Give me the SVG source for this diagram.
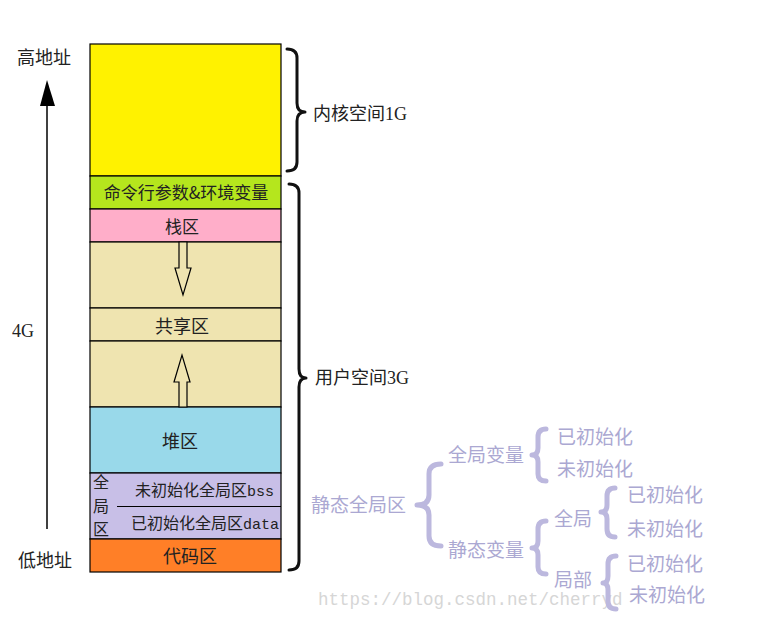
<svg xmlns="http://www.w3.org/2000/svg" width="759" height="627" viewBox="0 0 759 627">
<style>
.cell{stroke:#000;stroke-width:1.2}
.t{font-family:"Noto Sans CJK SC","Liberation Sans",sans-serif;fill:#222}
.m{font-family:"Liberation Mono",monospace}
.s{font-family:"Liberation Serif",serif}
.lv{font-family:"Noto Sans CJK SC","Liberation Sans",sans-serif;fill:#aba8d2;font-size:19px}
.kb{fill:none;stroke:#111;stroke-width:3;stroke-linecap:round;stroke-linejoin:round}
.lb{fill:none;stroke:#bcb8de;stroke-width:5;stroke-linecap:round;stroke-linejoin:round}
.ha{fill:#efe4b0;stroke:#000;stroke-width:1.2}
</style>
<rect width="759" height="627" fill="#fff"/>
<text x="318" y="605" font-family="Liberation Mono,monospace" font-size="17.5" fill="#d6d6d6">https://blog.csdn.net/cherryd</text>

<g id="kernel"><rect class="cell" x="90" y="44" width="191" height="132" fill="#fff200"/></g>
<g id="args"><rect class="cell" x="90" y="176" width="191" height="33" fill="#b5e61d"/>
<text class="t" x="186" y="199" font-size="17" text-anchor="middle">命令行参数&amp;环境变量</text></g>
<g id="stack"><rect class="cell" x="90" y="209" width="191" height="33" fill="#ffaec9"/>
<text class="t" x="182" y="233" font-size="17" text-anchor="middle">栈区</text></g>
<g id="gap1"><rect class="cell" x="90" y="242" width="191" height="66" fill="#efe4b0"/></g>
<g id="shared"><rect class="cell" x="90" y="308" width="191" height="33" fill="#efe4b0"/>
<text class="t" x="182" y="333" font-size="18" text-anchor="middle">共享区</text></g>
<g id="gap2"><rect class="cell" x="90" y="341" width="191" height="66" fill="#efe4b0"/></g>
<g id="heap"><rect class="cell" x="90" y="407" width="191" height="66" fill="#99d9ea"/>
<text class="t" x="180" y="448" font-size="18" text-anchor="middle">堆区</text></g>
<g id="global"><rect class="cell" x="90" y="473" width="191" height="66" fill="#c8bfe7"/>
<line x1="117" y1="506.5" x2="281" y2="506.5" stroke="#000" stroke-width="1.2"/>
<text class="t" x="101" y="488" font-size="16" text-anchor="middle">全</text>
<text class="t" x="101" y="511.5" font-size="16" text-anchor="middle">局</text>
<text class="t" x="101" y="535" font-size="16" text-anchor="middle">区</text>
<text class="t" x="135" y="496" font-size="16">未初始化全局区<tspan class="m" font-size="15">bss</tspan></text>
<text class="t" x="131" y="529" font-size="16">已初始化全局区<tspan class="m" font-size="15">data</tspan></text></g>
<g id="code"><rect class="cell" x="90" y="539" width="191" height="33" fill="#ff7f27"/>
<text class="t" x="190" y="563" font-size="18" text-anchor="middle">代码区</text></g>

<g id="connectors">
<polygon class="ha" points="179,242 187,242 187,268 191,268 183,295 175,268 179,268"/>
<polygon class="ha" points="179,407 187,407 187,382 190,382 182,355 174,382 179,382"/>
<line x1="47" y1="104" x2="47" y2="529" stroke="#000" stroke-width="1.5"/>
<polygon points="47,80 40,106 55,106" fill="#000"/>
<path class="kb" d="M287,49 Q297,49 297,58 V103 Q297,112 305,112 Q297,112 297,121 V162 Q297,171 287,171"/>
<path class="kb" d="M289,184 Q299,184 299,193 V369 Q299,378 306,378 Q299,378 299,387 V561 Q299,570 289,570"/>
<path class="lb" d="M441,464 Q429,464 429,474 V495 Q429,505 417,505 Q429,505 429,515 V536 Q429,546 441,546"/>
<path class="lb" d="M546,429 Q538,429 538,437 V448 Q538,455 532,455 Q538,455 538,462 V474 Q538,481 546,481"/>
<path class="lb" d="M546,521 Q538,521 538,529 V541 Q538,548 532,548 Q538,548 538,555 V567 Q538,574 546,574"/>
<path class="lb" d="M615,488 Q607,488 607,496 V505 Q607,512 601,512 Q607,512 607,519 V529 Q607,537 615,537"/>
<path class="lb" d="M616,556 Q608,556 608,564 V576 Q608,583 603,583 Q608,583 608,590 V601 Q608,609 616,609"/>
</g>

<g id="labels">
<text class="t" x="17" y="64" font-size="18">高地址</text>
<text class="t s" x="12" y="337" font-size="18">4G</text>
<text class="t" x="18" y="567" font-size="18">低地址</text>
<text class="t" x="313" y="120" font-size="18">内核空间<tspan class="s" font-size="18">1G</tspan></text>
<text class="t" x="315" y="384" font-size="18">用户空间<tspan class="s" font-size="18">3G</tspan></text>
</g>

<g id="tree">
<text class="lv" x="311" y="512">静态全局区</text>
<text class="lv" x="448" y="462">全局变量</text>
<text class="lv" x="448" y="557">静态变量</text>
<text class="lv" x="557" y="444">已初始化</text>
<text class="lv" x="557" y="476">未初始化</text>
<text class="lv" x="554" y="526">全局</text>
<text class="lv" x="554" y="587">局部</text>
<text class="lv" x="627" y="502">已初始化</text>
<text class="lv" x="627" y="536">未初始化</text>
<text class="lv" x="627" y="571">已初始化</text>
<text class="lv" x="629" y="602">未初始化</text>
</g>
</svg>
